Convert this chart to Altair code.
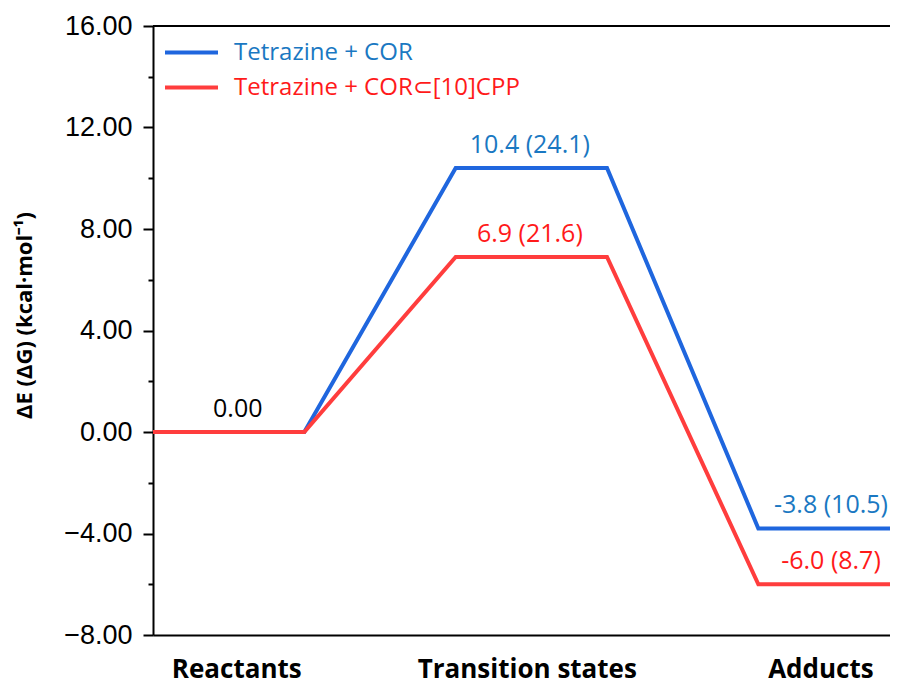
import altair as alt
import pandas as pd

# ---- data ----
stages = ["Reactants", "Transition states", "Adducts"]
series_names = ["Tetrazine + COR", "Tetrazine + COR⊂[10]CPP"]
cor_dE = [0.0, 10.4, -3.8]
cor_dG = [None, 24.1, 10.5]
cpp_dE = [0.0, 6.9, -6.0]
cpp_dG = [None, 21.6, 8.7]
reactant_label = "0.00"
stage_label_pos = [0.55, 2.47, 4.41]   # x position of category labels
value_label_pos = [0.56, 2.49, 4.48]   # x position of the energy labels
y_ticks = [-8, -6, -4, -2, 0, 2, 4, 6, 8, 10, 12, 14, 16]

line_colors = ["#1f66de", "#ff3d3d"]
text_colors = ["#1a78c2", "#ff1a1a"]

# ---- build tables ----
line_rows = []
for name, dE in zip(series_names, [cor_dE, cpp_dE]):
    for i, e in enumerate(dE):
        line_rows.append({"series": name, "x": 2 * i, "E": e, "o": 2 * i})
        line_rows.append({"series": name, "x": 2 * i + 1, "E": e, "o": 2 * i + 1})
lines_df = pd.DataFrame(line_rows)

label_rows = [{"x": value_label_pos[0], "E": cor_dE[0], "text": reactant_label, "color": "#000000"}]
for k, (dE, dG) in enumerate(zip([cor_dE, cpp_dE], [cor_dG, cpp_dG])):
    for i in (1, 2):
        label_rows.append({"x": value_label_pos[i], "E": dE[i],
                           "text": f"{dE[i]:.1f} ({dG[i]:.1f})", "color": text_colors[k]})
labels_df = pd.DataFrame(label_rows)

x_domain = [0, 4.87]
label_expr = " : ".join(
    f"datum.value < {p + 0.5} ? '{s}'" for p, s in zip(stage_label_pos[:-1], stages[:-1])
) + f" : '{stages[-1]}'"

x_enc = alt.X("x:Q", scale=alt.Scale(domain=x_domain, nice=False, zero=False),
              axis=alt.Axis(values=stage_label_pos, labelExpr=label_expr, title=None,
                            ticks=False, grid=False, domainColor="black", domainWidth=2,
                            labelFont="Open Sans", labelFontWeight="bold", labelFontSize=26,
                            labelColor="black", labelPadding=42, labelBaseline="alphabetic",
                            labelLimit=500))
y_enc = alt.Y("E:Q", scale=alt.Scale(domain=[-8, 16], nice=False),
              axis=alt.Axis(values=y_ticks, grid=False,
                            title="ΔE (ΔG) (kcal·mol⁻¹)",
                            titleFont="Open Sans", titleFontWeight="bold", titleFontSize=22,
                            titleColor="black", titlePadding=27, titleY=289,
                            labelExpr="datum.value % 4 === 0 ? format(datum.value, '.2f') : ''",
                            labelFont="Liberation Sans", labelFontSize=27, labelColor="black",
                            labelPadding=11,
                            tickSize={"condition": {"test": "datum.value % 4 === 0", "value": 10}, "value": 5},
                            tickWidth=2, tickColor="black", domainColor="black", domainWidth=2))


def series_layer(k, ly):
    return alt.Chart(lines_df).transform_filter(
        alt.datum.series == series_names[k]
    ).mark_line(strokeWidth=4, clip=True, strokeJoin="miter").encode(
        x=x_enc, y=y_enc, order="o:Q",
        color=alt.Color("series:N",
                        scale=alt.Scale(domain=[series_names[k]], range=[line_colors[k]]),
                        legend=alt.Legend(title=None, orient="none", legendX=10, legendY=ly,
                                          symbolType="stroke", symbolSize=2809,
                                          symbolStrokeWidth=4, labelFont="Open Sans",
                                          labelFontSize=24, labelColor=text_colors[k],
                                          labelOffset=14, labelLimit=400)),
    )


top_rule = alt.Chart(pd.DataFrame({"E": [16]})).mark_rule(color="black", strokeWidth=2).encode(
    y=y_enc)

texts = alt.Chart(labels_df).mark_text(font="Open Sans", fontSize=25, dy=-15,
                                       baseline="alphabetic", align="center").encode(
    x=x_enc, y=y_enc, text="text:N", color=alt.Color("color:N", scale=None))

chart = alt.layer(series_layer(0, -2), series_layer(1, 33), texts, top_rule).resolve_scale(
    color="independent"
).properties(
    width=737, height=609,
    autosize=alt.AutoSizeParams(type="none"),
    padding={"left": 145, "top": 18, "right": 0, "bottom": 52},
).configure_view(stroke=None)

chart.save("out.html", embed_options={"renderer": "svg", "actions": False})
